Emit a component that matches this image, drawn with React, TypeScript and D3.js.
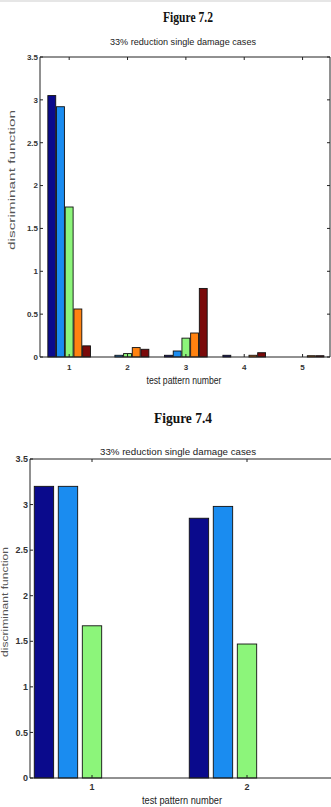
import React from 'react';
import * as d3 from 'd3';

// series colours (jet-like, as in the MATLAB figures)
const seriesColors = ['#0a0a8c', '#1a8cf0', '#8cf57a', '#ff8210', '#7a0a0a'];

// Figure 7.2 : five test patterns, five damage cases
const patterns72 = [1, 2, 3, 4, 5];
const case1_72 = [3.05, 0.0, 0.02, 0.02, 0.0];
const case2_72 = [2.92, 0.02, 0.07, 0.0, 0.0];
const case3_72 = [1.75, 0.04, 0.22, 0.0, 0.0];
const case4_72 = [0.56, 0.11, 0.28, 0.02, 0.015];
const case5_72 = [0.13, 0.09, 0.8, 0.05, 0.015];

// Figure 7.4 : only the first three cases have bars
const patterns74 = [1, 2];
const case1_74 = [3.2, 2.85];
const case2_74 = [3.2, 2.98];
const case3_74 = [1.67, 1.47];

const yTicks = [0, 0.5, 1, 1.5, 2, 2.5, 3, 3.5];
const yTickLabels = ['0', '0.5', '1', '1.5', '2', '2.5', '3', '3.5'];

const figTitle72 = 'Figure 7.2';
const figTitle74 = 'Figure 7.4';
const subTitle = '33% reduction single damage cases';
const xLabel = 'test pattern number';
const yLabel = 'discriminant function';

const sans = '"Liberation Sans Narrow", "Liberation Sans", Arial, sans-serif';
const serif = '"Liberation Serif", "Times New Roman", serif';

interface PanelProps {
  top: number;          // y of the figure title
  titleText: string;
  titleX: number;
  titleWidth: number;
  subX: number;
  subY: number;
  subW: number;
  axTop: number;
  axBottom: number;
  axLeft: number;
  axRight: number;
  xDomain: [number, number];
  patterns: number[];
  series: number[][];
  pitch: number;        // distance between bars of one group, in x units
  barW: number;         // bar width, in x units
  tickFont: number;
  tickLen: number;
  xTickY: number;
  xLabelX: number;
  xLabelY: number;
  xLabelW: number;
  yLabelX: number;
  yLabelY: number;
  yLabelW: number;
  drawRight: boolean;
}

const Panel: React.FC<PanelProps> = p => {
  const x = d3.scaleLinear().domain(p.xDomain).range([p.axLeft, p.axRight]);
  const y = d3.scaleLinear().domain([0, 3.5]).range([p.axBottom, p.axTop]);
  const unit = x(1) - x(0);

  return (
    <g>
      <text x={p.titleX} y={p.top} textAnchor="middle" fontFamily={serif} fontWeight="bold"
        fontSize={15} textLength={p.titleWidth} lengthAdjust="spacingAndGlyphs" fill="#111">
        {p.titleText}
      </text>
      <text x={p.subX} y={p.subY} textAnchor="middle" fontFamily={sans} fontSize={9}
        textLength={p.subW} lengthAdjust="spacingAndGlyphs" fill="#222">
        {subTitle}
      </text>

      {/* bars */}
      {p.series.map((vals, si) =>
        vals.map((v, gi) => {
          if (v <= 0) return null;
          const cx = x(p.patterns[gi] + (si - 2) * p.pitch);
          const w = p.barW * unit;
          return (
            <rect key={`${si}-${gi}`} x={cx - w / 2} y={y(v)} width={w}
              height={y(0) - y(v)} fill={seriesColors[si]} stroke="#111" strokeWidth={0.9} />
          );
        })
      )}

      {/* axes box */}
      <line x1={p.axLeft} x2={p.axRight} y1={p.axTop} y2={p.axTop} stroke="#222" strokeWidth={1} />
      <line x1={p.axLeft} x2={p.axRight} y1={p.axBottom} y2={p.axBottom} stroke="#222" strokeWidth={1} />
      <line x1={p.axLeft} x2={p.axLeft} y1={p.axTop} y2={p.axBottom} stroke="#222" strokeWidth={1} />
      {p.drawRight && (
        <line x1={p.axRight} x2={p.axRight} y1={p.axTop} y2={p.axBottom} stroke="#222" strokeWidth={1} />
      )}

      {/* y ticks */}
      {yTicks.map((t, i) => (
        <g key={t}>
          <line x1={p.axLeft} x2={p.axLeft + p.tickLen} y1={y(t)} y2={y(t)} stroke="#222" />
          {p.drawRight && (
            <line x1={p.axRight} x2={p.axRight - p.tickLen} y1={y(t)} y2={y(t)} stroke="#222" />
          )}
          <text x={p.axLeft - 2} y={y(t)} dy="0.35em" textAnchor="end" fontFamily={sans}
            fontSize={p.tickFont} fontWeight="bold" fill="#333">
            {yTickLabels[i]}
          </text>
        </g>
      ))}

      {/* x ticks */}
      {p.patterns.map(t => (
        <g key={t}>
          <line x1={x(t)} x2={x(t)} y1={p.axBottom} y2={p.axBottom - p.tickLen} stroke="#222" />
          <line x1={x(t)} x2={x(t)} y1={p.axTop} y2={p.axTop + p.tickLen} stroke="#222" />
          <text x={x(t)} y={p.xTickY} textAnchor="middle" fontFamily={sans}
            fontSize={p.tickFont} fontWeight="bold" fill="#333">
            {t}
          </text>
        </g>
      ))}

      <text x={p.xLabelX} y={p.xLabelY} textAnchor="middle" fontFamily={sans} fontSize={10.5}
        textLength={p.xLabelW} lengthAdjust="spacingAndGlyphs" fill="#222">
        {xLabel}
      </text>
      <text transform={`translate(${p.yLabelX},${p.yLabelY}) rotate(-90)`} textAnchor="middle"
        fontFamily={sans} fontSize={9} textLength={p.yLabelW} lengthAdjust="spacingAndGlyphs" fill="#555">
        {yLabel}
      </text>
    </g>
  );
};

const App: React.FC = () => {
  const width = 331;
  const height = 807;
  return (
    <div style={{ position: 'absolute', left: 0, top: 0, width, height, overflow: 'hidden', background: '#fff' }}>
      <svg width={width} height={height} style={{ display: 'block' }}>
        <rect x={0} y={0} width={width} height={2} fill="#e6e6e6" />
        <Panel
          top={22} titleText={figTitle72} titleX={188} titleWidth={50}
          subX={183} subY={45} subW={146}
          axTop={57} axBottom={357} axLeft={40} axRight={330}
          xDomain={[0.5, 5.47]} patterns={patterns72}
          series={[case1_72, case2_72, case3_72, case4_72, case5_72]}
          pitch={0.149} barW={0.135} tickFont={8} tickLen={3}
          xTickY={370} xLabelX={184} xLabelY={384} xLabelW={75}
          yLabelX={15} yLabelY={180} yLabelW={140} drawRight={true}
        />
        <Panel
          top={423} titleText={figTitle74} titleX={183} titleWidth={58}
          subX={178} subY={455} subW={156}
          axTop={459} axBottom={778} axLeft={30} axRight={340}
          xDomain={[0.6, 2.6]} patterns={patterns74}
          series={[case1_74, case2_74, case3_74]}
          pitch={0.155} barW={0.125} tickFont={9} tickLen={3}
          xTickY={790} xLabelX={182} xLabelY={804} xLabelW={80}
          yLabelX={8} yLabelY={602} yLabelW={110} drawRight={false}
        />
      </svg>
    </div>
  );
};

export default App;
